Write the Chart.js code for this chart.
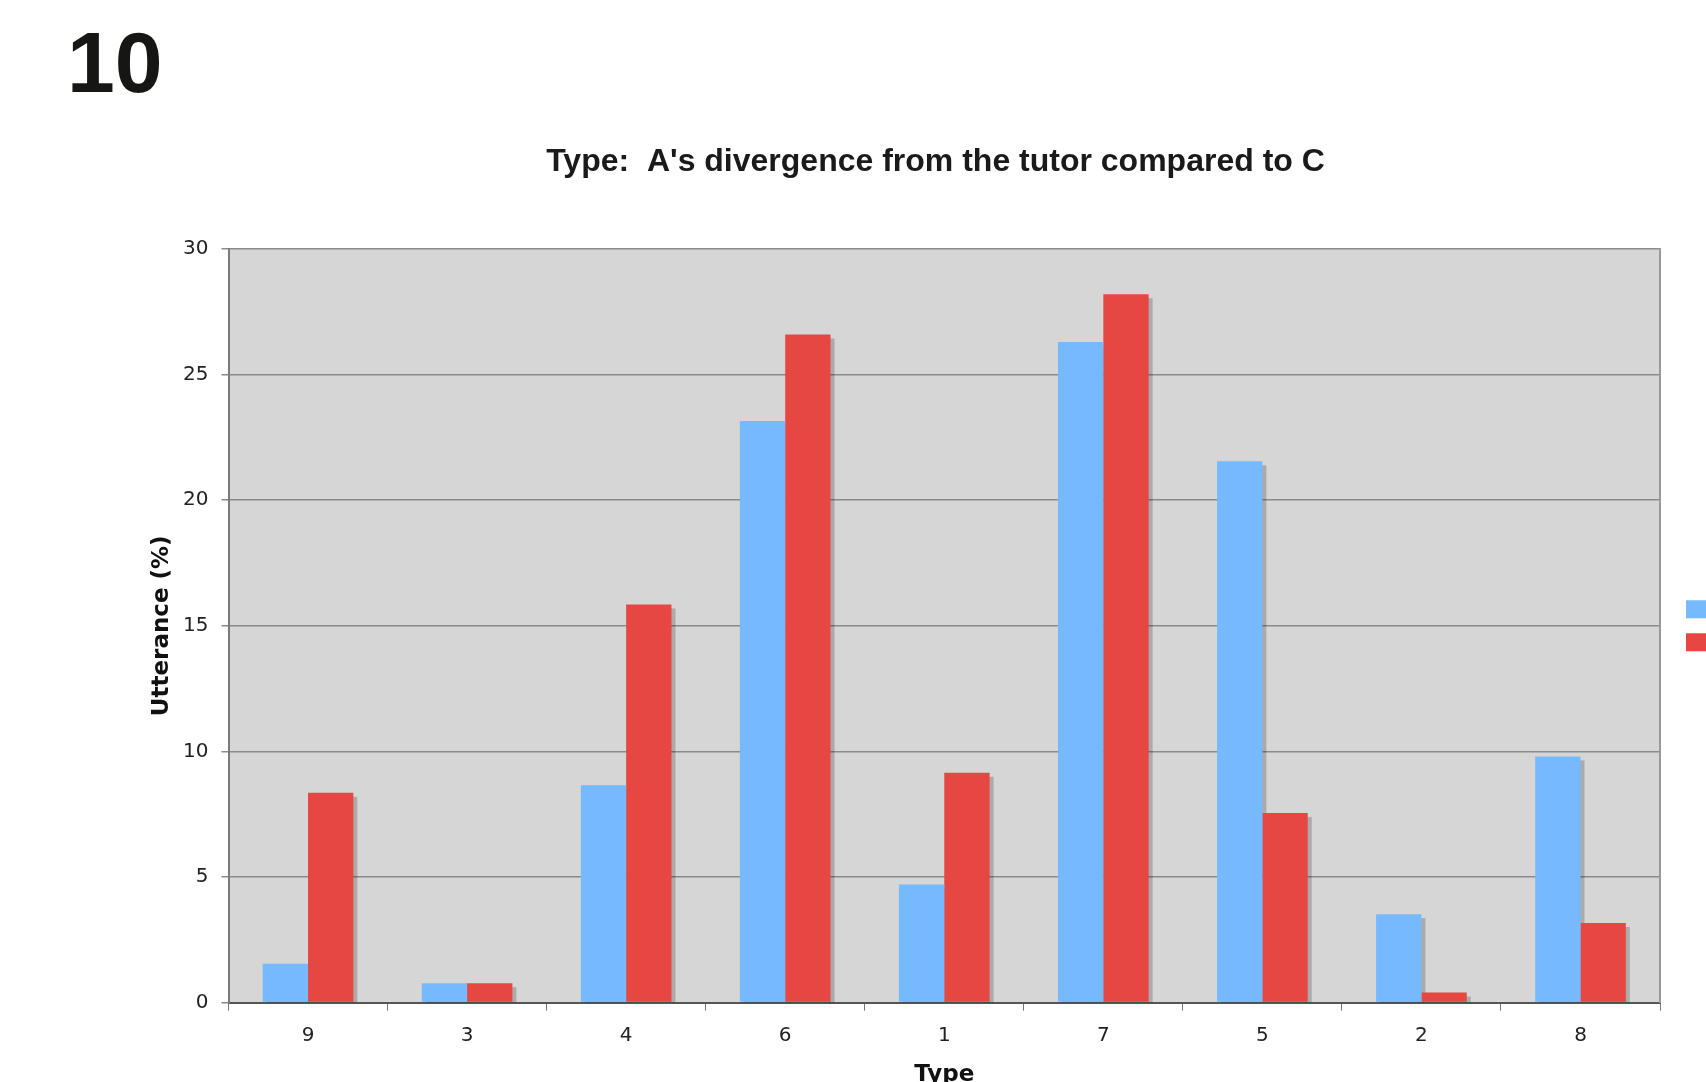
<!DOCTYPE html>
<html>
<head>
<meta charset="utf-8">
<script src="https://cdn.jsdelivr.net/npm/chart.js@4.4.1/dist/chart.umd.min.js"></script>
<style>
  html, body { margin: 0; padding: 0; background: #fff; overflow: hidden; }
  #fig { position: absolute; left: 67px; top: 19px; font: bold 86px "Liberation Sans", Arial, sans-serif; line-height: 86px; color: #161614; }
  #wrap { position: absolute; left: 0; top: 0; width: 1760px; height: 1100px; }
</style>
</head>
<body>
<div id="fig">10</div>
<div id="wrap"><canvas id="myChart" width="1760" height="1100"></canvas></div>
<script>
// 데이터
const types = ['9', '3', '4', '6', '1', '7', '5', '2', '8'];
const seriesA = [1.55, 0.77, 8.65, 23.15, 4.7, 26.3, 21.55, 3.52, 9.8];
const seriesC = [8.35, 0.77, 15.85, 26.6, 9.15, 28.2, 7.55, 0.4, 3.17];
const yTicks = [0, 5, 10, 15, 20, 25, 30];

const canvas = document.querySelector('#myChart');

// 플롯 배경
const plotBg = {
    id: 'plotBg',
    beforeDraw(chart) {
        const { ctx, chartArea: a } = chart;
        ctx.save();
        ctx.fillStyle = '#d6d6d6';
        ctx.fillRect(a.left, a.top, a.right - a.left, a.bottom - a.top);
        ctx.restore();
    }
};

// 막대 그림자 (모든 막대 아래에 먼저 그림)
const barShadow = {
    id: 'barShadow',
    beforeDatasetsDraw(chart) {
        const { ctx, chartArea: a } = chart;
        ctx.save();
        ctx.beginPath();
        ctx.rect(a.left, a.top, a.right - a.left, a.bottom - a.top);
        ctx.clip();
        ctx.fillStyle = 'rgba(0,0,0,0.2)';
        chart.data.datasets.forEach((ds, i) => {
            chart.getDatasetMeta(i).data.forEach(bar => {
                const left = bar.x - bar.width / 2;
                ctx.fillRect(left + 4, bar.y + 4, bar.width, bar.base - bar.y);
            });
        });
        ctx.restore();
    }
};

new Chart(canvas, {
    type: 'bar',
    data: {
        labels: types,
        datasets: [
            {
                label: 'A',
                data: seriesA,
                backgroundColor: '#76b9fe',
                borderWidth: 0,
                categoryPercentage: 0.57,
                barPercentage: 1.0
            },
            {
                label: 'C',
                data: seriesC,
                backgroundColor: '#e64742',
                borderWidth: 0,
                categoryPercentage: 0.57,
                barPercentage: 1.0
            }
        ]
    },
    options: {
        responsive: false,
        animation: false,
        layout: { padding: { left: 143, right: 32, top: 0, bottom: 6.8 } },
        scales: {
            x: {
                grid: { drawOnChartArea: false, drawTicks: true, tickLength: 8, color: '#777' },
                border: { color: '#555', width: 2 },
                ticks: { padding: 13.5, color: '#222', font: { family: 'DejaVu Sans', size: 20 } },
                title: {
                    display: true,
                    text: 'Type',
                    color: '#111',
                    font: { family: 'DejaVu Sans', size: 23, weight: 'bold' },
                    padding: { top: 0, bottom: 4 }
                }
            },
            y: {
                min: 0,
                max: 30,
                afterBuildTicks(scale) {
                    scale.ticks = yTicks.map(v => ({ value: v }));
                },
                afterFit(scale) { scale.width = 85.5; },
                grid: { color: '#8a8a8a', lineWidth: 1.5, tickLength: 7 },
                border: { color: '#7a7a7a', width: 2 },
                ticks: { padding: 13, color: '#222', font: { family: 'DejaVu Sans', size: 20 } },
                title: {
                    display: true,
                    text: 'Utterance (%)',
                    color: '#111',
                    font: { family: 'DejaVu Sans', size: 23, weight: 'bold' },
                    padding: { top: 5.5, bottom: 4 }
                }
            },
            y2: {
                position: 'right',
                display: true,
                afterFit(scale) { scale.width = 11; },
                grid: { drawOnChartArea: false, drawTicks: false },
                border: { color: '#999', width: 2 },
                ticks: { display: false }
            }
        },
        plugins: {
            title: {
                display: true,
                text: "Type:  A's divergence from the tutor compared to C",
                color: '#1a1a1a',
                font: { family: 'Liberation Sans', size: 32, weight: 'bold' },
                padding: { top: 142.8, bottom: 67.8 }
            },
            legend: {
                position: 'right',
                fullSize: false,
                labels: {
                    boxWidth: 20,
                    boxHeight: 18,
                    padding: 15,
                    color: '#222',
                    font: { family: 'DejaVu Sans', size: 10 }
                }
            },
            tooltip: { enabled: false }
        }
    },
    plugins: [plotBg, barShadow]
});
</script>
</body>
</html>
